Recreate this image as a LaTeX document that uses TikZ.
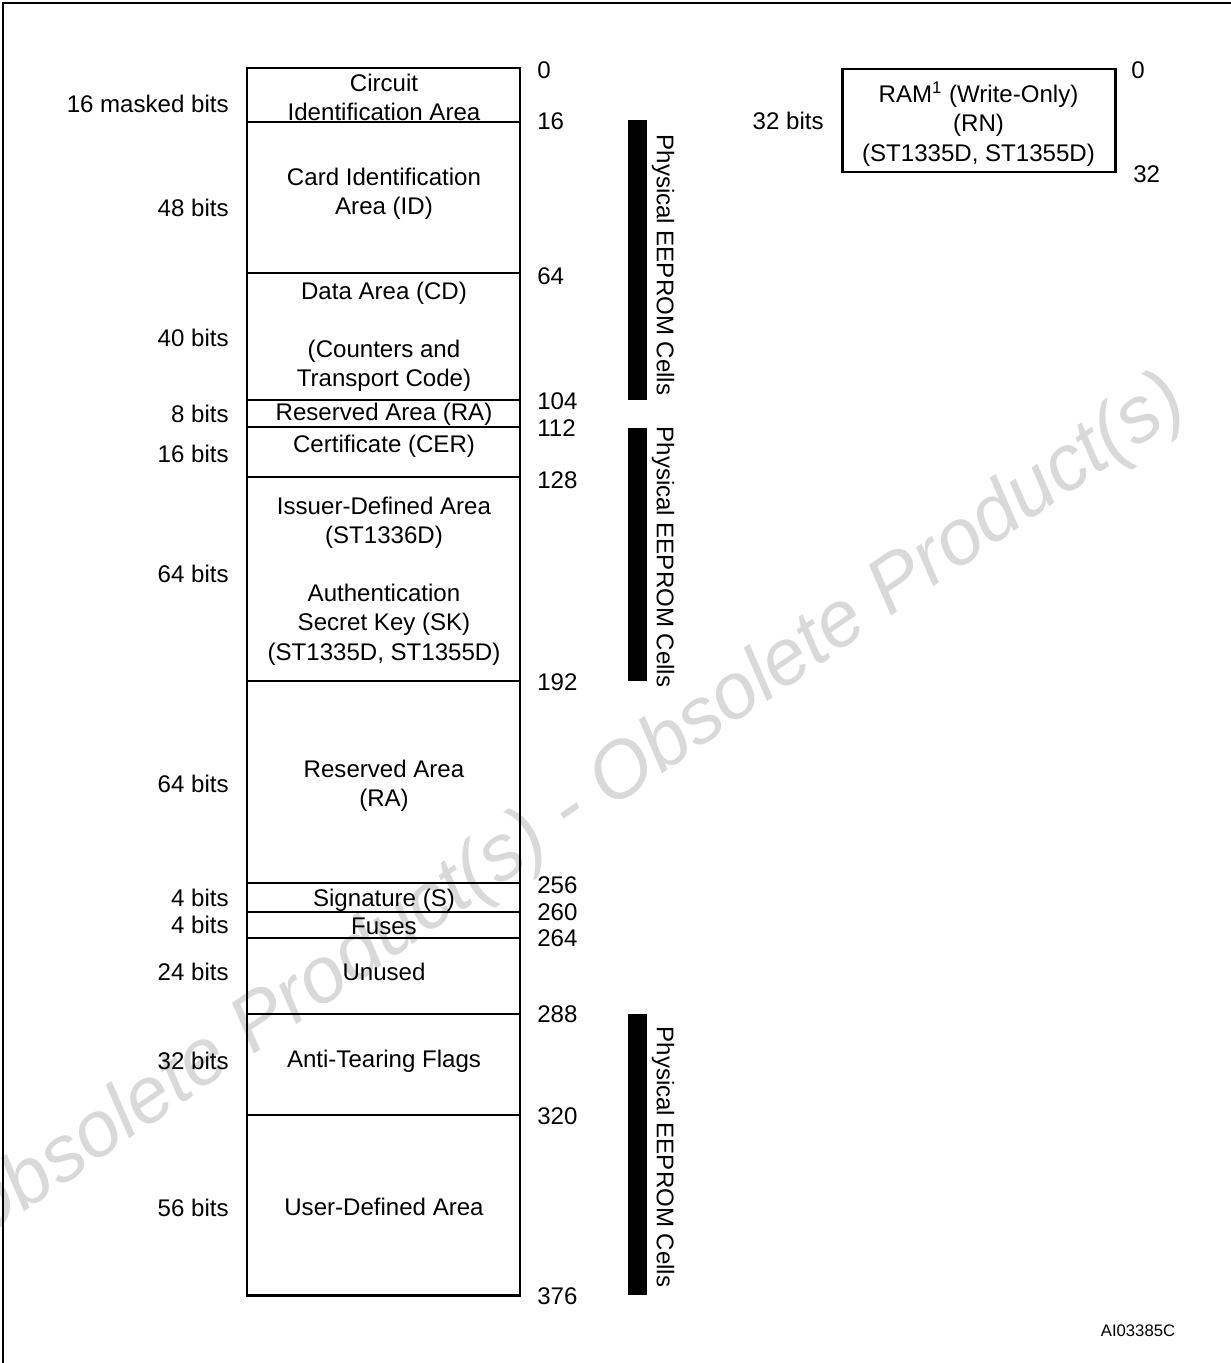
\documentclass[tikz,border=0pt]{standalone}
\usepackage{fontspec}
\setmainfont{Liberation Sans}
\begin{document}
\begin{tikzpicture}[x=0.02cm,y=-0.02cm,
  lbl/.style={font=\fontsize{13.7}{16.6}\selectfont,inner sep=0pt,align=center},
  bitlbl/.style={lbl,anchor=east},
  adrlbl/.style={lbl,anchor=west},
  outerbox/.style={draw,line width=1.7pt},
  divider/.style={line width=1.1pt},
  cellbar/.style={fill=black,draw=none},
  cellsl/.style={lbl,rotate=-90},
  wmark/.style={font=\fontsize{45}{50}\selectfont\itshape,text=black!15,inner sep=0pt}]
\useasboundingbox (0,0) rectangle (1231,1363);
% watermark
\node[wmark,rotate=34.5] (wm) at (570,812) {Obsolete Product(s) - Obsolete Product(s)};
% frame
\draw[line width=1.7pt] (3,1370) -- (3,3) -- (1240,3);
% main memory box
\foreach \yy in {122,273,400,427,477,681,883,912,938,1014,1115}
  \draw[divider] (247,\yy) -- (520,\yy);
\draw[outerbox] (247,68) rectangle (520,1295);
% region texts
\node[lbl] (r1) at (384,97) {Circuit\\Identification Area};
\node[lbl] (r2) at (384,194) {Card Identification\\Area (ID)};
\node[lbl] (r3) at (384,337) {Data Area (CD)\\\strut\\(Counters and\\Transport Code)};
\node[lbl] (r4) at (384,414) {Reserved Area (RA)};
\node[lbl] (r5) at (384,446) {Certificate (CER)};
\node[lbl] (r6) at (384,581) {Issuer-Defined Area\\(ST1336D)\\\strut\\Authentication\\Secret Key (SK)\\(ST1335D, ST1355D)};
\node[lbl] (r7) at (384,786) {Reserved Area\\(RA)};
\node[lbl] (r8) at (384,900) {Signature (S)};
\node[lbl] (r9) at (384,926) {Fuses};
\node[lbl] (r10) at (384,972) {Unused};
\node[lbl] (r11) at (384,1061) {Anti-Tearing Flags};
\node[lbl] (r12) at (384,1207) {User-Defined Area};
% bit sizes
\node[bitlbl] (b1) at (229,104) {16 masked bits};
\node[bitlbl] (b2) at (229,208) {48 bits};
\node[bitlbl] (b3) at (229,338) {40 bits};
\node[bitlbl] (b4) at (229,414) {8 bits};
\node[bitlbl] (b5) at (229,454) {16 bits};
\node[bitlbl] (b6) at (229,574) {64 bits};
\node[bitlbl] (b7) at (229,784) {64 bits};
\node[bitlbl] (b8) at (229,898) {4 bits};
\node[bitlbl] (b9) at (229,925) {4 bits};
\node[bitlbl] (b10) at (229,972) {24 bits};
\node[bitlbl] (b11) at (229,1061) {32 bits};
\node[bitlbl] (b12) at (229,1208) {56 bits};
% addresses
\node[adrlbl] (a0) at (537,70) {0};
\node[adrlbl] (a1) at (537,121) {16};
\node[adrlbl] (a2) at (537,276) {64};
\node[adrlbl] (a3) at (537,401) {104};
\node[adrlbl] (a4) at (537,428) {112};
\node[adrlbl] (a5) at (537,480) {128};
\node[adrlbl] (a6) at (537,682) {192};
\node[adrlbl] (a7) at (537,885) {256};
\node[adrlbl] (a8) at (537,912) {260};
\node[adrlbl] (a9) at (537,938) {264};
\node[adrlbl] (a10) at (537,1014) {288};
\node[adrlbl] (a11) at (537,1116) {320};
\node[adrlbl] (a12) at (537,1296) {376};
% physical EEPROM bars
\fill[cellbar] (628,120) rectangle (647,400);
\fill[cellbar] (628,428) rectangle (647,681);
\fill[cellbar] (628,1014) rectangle (647,1295);
\node[cellsl] (p1) at (663,265) {Physical EEPROM Cells};
\node[cellsl] (p2) at (663,557) {Physical EEPROM Cells};
\node[cellsl] (p3) at (663,1157) {Physical EEPROM Cells};
% RAM box
\draw[outerbox] (842,69) rectangle (1115,172);
\node[lbl] (ram) at (978.5,124) {RAM\textsuperscript{1} (Write-Only)\\(RN)\\(ST1335D, ST1355D)};
\node[bitlbl] (rb) at (824,121) {32 bits};
\node[adrlbl] (ra0) at (1131,70) {0};
\node[adrlbl] (ra1) at (1133,174) {32};
% figure id
\node[font=\fontsize{9.5}{11}\selectfont,inner sep=0pt] (fid) at (1138,1331) {AI03385C};
\end{tikzpicture}
\end{document}
